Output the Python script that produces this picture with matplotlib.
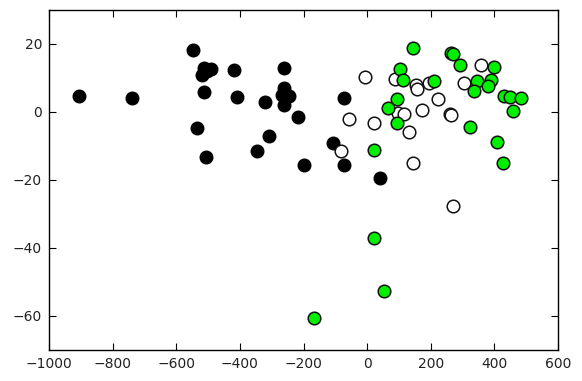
import matplotlib
matplotlib.use("Agg")
import matplotlib.pyplot as plt

# Black (filled) points
black_x = [-905, -740, -546, -512, -518, -492, -503, -512, -536, -505, -420, -410,
           -321, -307, -347, -260, -260, -268, -247, -260, -262, -216, -197, -106,
           -72, -72, 39]
black_y = [4.7, 4.2, 18.2, 12.8, 11.0, 12.6, 12.2, 5.8, -4.7, -13.1, 12.4, 4.3,
           3.0, -7.2, -11.6, 13.0, 7.0, 5.0, 4.8, 2.1, 5.5, -1.6, -15.7, -9.0,
           4.2, -15.6, -19.3]

# White (open) points
white_x = [-6, -56, -82, 23, 88, 98, 116, 132, 154, 158, 194, 173, 222, 259, 264,
           144, 303, 358, 271]
white_y = [10.2, -2.0, -11.5, -3.2, 9.8, -0.2, -0.6, -5.8, 7.9, 6.7, 8.4, 0.6,
           3.9, -0.7, -0.8, -14.9, 8.6, 13.8, -27.7]

# Green points
green_x = [144, 264, 271, 102, 114, 211, 292, 399, 345, 389, 381, 337, 431, 450,
           483, 460, 94, 64, 94, 23, 324, 408, 427, 21, 54, -166]
green_y = [18.9, 17.3, 17.1, 12.6, 9.4, 9.1, 13.8, 13.2, 9.1, 9.4, 7.6, 6.2, 4.7,
           4.5, 4.0, 0.4, 3.8, 1.3, -3.2, -11.2, -4.5, -8.9, -15.1, -37.0, -52.6,
           -60.5]

xticks = [-1000, -800, -600, -400, -200, 0, 200, 400, 600]
yticks = [-60, -40, -20, 0, 20]

fig = plt.figure(figsize=(5.82, 3.81), dpi=100)
ax = fig.add_axes([0.0842, 0.0814, 0.8746, 0.8924])

ms = 82
ax.scatter(black_x, black_y, s=ms, c="black", edgecolors="black", linewidths=1, zorder=2)
ax.scatter(white_x, white_y, s=ms, c="white", edgecolors="#111111", linewidths=1.1, zorder=3)
ax.scatter(green_x, green_y, s=ms, c="#00ee00", edgecolors="#111111", linewidths=1.1, zorder=4)

ax.set_xlim(-1000, 600)
ax.set_ylim(-70, 30)
ax.set_xticks(xticks)
ax.set_yticks(yticks)
ax.tick_params(direction="in", top=True, right=True, length=5, width=0.8,
               labelsize=10, colors="black", labelcolor="#222222", pad=5)
for sp in ax.spines.values():
    sp.set_linewidth(1.0)

fig.savefig("out.png", dpi=100)
